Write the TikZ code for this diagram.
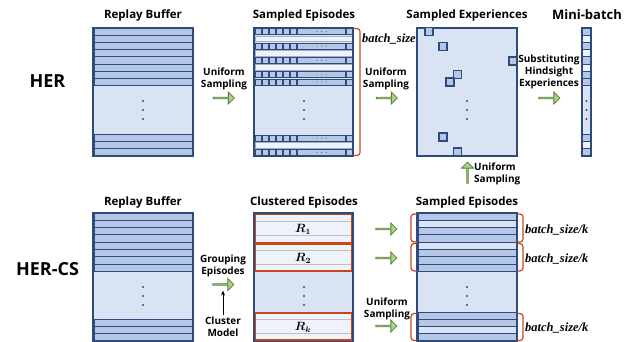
\documentclass[tikz,border=0pt]{standalone}
\usepackage{fontspec}
\usepackage{bm}
\setsansfont{Open Sans}
\newfontfamily\batchfont{Liberation Serif}
\usetikzlibrary{shapes.arrows,arrows.meta}

\definecolor{navy}{HTML}{2F4B7C}
\definecolor{midblue}{HTML}{B4C7E7}
\definecolor{paleblue}{HTML}{DAE3F3}
\definecolor{whiteblue}{HTML}{EEF2FA}
\definecolor{brick}{HTML}{C8461E}
\definecolor{leaf}{HTML}{A9D18E}
\definecolor{leafdark}{HTML}{548235}

\tikzset{
  frame/.style={draw=navy, line width=1.2pt},
  row/.style={draw=navy, fill=midblue, line width=0.9pt},
  paleRow/.style={draw=navy, fill=paleblue, line width=0.9pt},
  lightrow/.style={draw=navy!45, fill=whiteblue, line width=0.7pt},
  lightcell/.style={draw=navy, fill=whiteblue, line width=0.9pt},
  brace/.style={draw=brick, line width=1.2pt, rounded corners=3pt},
  greyline/.style={draw=black!25, line width=1pt},
  title/.style={font=\sffamily\bfseries\fontsize{11.5}{13}\selectfont, anchor=base},
  bigname/.style={font=\sffamily\bfseries\fontsize{18}{20}\selectfont, anchor=base},
  note/.style={font=\sffamily\bfseries\fontsize{10}{12}\selectfont, align=center, inner sep=0pt},
  batch/.style={font=\batchfont\bfseries\itshape\fontsize{12.5}{14}\selectfont, anchor=base west, inner sep=0pt},
  cluster/.style={font=\fontsize{12}{14}\selectfont},
  flow/.style={single arrow, draw=leafdark, fill=leaf, line width=0.8pt,
    minimum width=12pt, minimum height=21pt, single arrow head extend=3pt, inner sep=0pt}
}

% one sampled episode: six steps, the rest, the last step
\newcommand{\eprow}[1]{%
  \foreach \i in {0,...,5}
    \draw[row] (255+7*\i,#1+0.6) rectangle ++(6.4,6);
  \draw[row] (297.5,#1+0.6) rectangle (345.5,#1+6.6);
  \foreach \d in {317,321.5,326}
    \fill[navy] (\d,#1+3.6) circle (0.5);
  \draw[row] (346.5,#1+0.6) rectangle (352,#1+6.6);
}
\newcommand{\vdotsat}[2]{%
  \foreach \d in {0,9,18}
    \fill[navy] (#1,#2+\d) circle (1.1);
}

\begin{document}
\begin{tikzpicture}[x=1pt,y=-1pt]
  \useasboundingbox (0,0) rectangle (642,342);

  %HER
  \node[bigname] (her) at (47.5,87.3) {HER};

  % replay buffer
  \node[title] (rbtitle) at (143,19) {Replay Buffer};
  \fill[paleblue] (93,28) rectangle (193,156);
  \foreach \k in {0,...,7}
    \draw[row] (94,28+7.2*\k) rectangle ++(98,7.2);
  \foreach \k in {0,1,2}
    \draw[row] (94,134.4+7.2*\k) rectangle ++(98,7.2);
  \draw[frame] (93,28) rectangle (193,156);
  \vdotsat{143}{101}

  \node[note] (usampa) at (224,79) {Uniform\\Sampling};
  \node[flow] (arra) at (223.5,98) {};

  % sampled episodes
  \node[title] (setitle) at (304,19) {Sampled Episodes};
  \fill[paleblue] (254,28) rectangle (353,156);
  \foreach \y in {28,42.4,56.8,71.2,78.4,134.4,148.8}
    \eprow{\y}
  \foreach \y in {35.2,49.6,64,141.6}
    \draw[lightrow] (255,\y+0.8) rectangle (352,\y+6.4);
  \draw[frame] (254,28) rectangle (353,156);
  \vdotsat{304}{101}
  \draw[brace] (353,28.5) -- (360,28.5) -- (360,155.5) -- (353,155.5);
  \node[batch] (bs) at (362,42.5) {batch\_size};

  \node[note] (usampb) at (386,79) {Uniform\\Sampling};
  \node[flow] (arrb) at (386.5,98) {};

  % sampled experiences
  \node[title] (sxtitle) at (467,19) {Sampled Experiences};
  \draw[frame, fill=paleblue] (417,28) rectangle (517,156);
  \foreach \x/\y in {429/31.5,443/46.5,513/61,457.5/74.5,450/82,443/137,457.5/152}
    \draw[row, line width=1.2pt] (\x-4,\y-4) rectangle ++(8,8);
  \vdotsat{467}{101}

  \node[flow, shape border rotate=90] (arrup) at (467.5,173) {};
  \node[note, align=left, anchor=west] (usampc) at (474,174) {Uniform\\Sampling};

  \node[note] (subst) at (549,72) {Substituting\\Hindsight\\Experiences};
  \node[flow] (arrc) at (549,98) {};

  % mini-batch
  \node[font=\sffamily\bfseries\fontsize{13}{15}\selectfont, anchor=base] (mbtitle) at (587,19.5) {Mini-batch};
  \fill[paleblue] (582,28) rectangle (591,156);
  \foreach \y in {28,42.4,56.8,71.2,78.4,134.4,148.8}
    \draw[row] (582,\y) rectangle ++(9,7.2);
  \foreach \y in {35.2,49.6,64,141.6}
    \draw[lightcell] (582,\y) rectangle ++(9,7.2);
  \draw[frame] (582,28) rectangle (591,156);
  \vdotsat{586.5}{101}

  %HER-CS
  \node[bigname] (hercs) at (47.5,275.7) {HER-CS};

  % replay buffer
  \node[title] (rbtitleb) at (143,205) {Replay Buffer};
  \fill[paleblue] (93,213) rectangle (193,341);
  \foreach \k in {0,...,7}
    \draw[row] (94,213+7.3*\k) rectangle ++(98,7.3);
  \foreach \k in {0,1,2}
    \draw[row] (94,319.1+7.3*\k) rectangle ++(98,7.3);
  \draw[frame] (93,213) rectangle (193,341);
  \vdotsat{143}{287}

  \node[note] (group) at (223,265.5) {Grouping\\Episodes};
  \node[flow] (arrg) at (223,284.5) {};
  \node[note] (clmodel) at (223,327) {Cluster\\Model};
  \draw[-{Stealth[length=5pt,width=4pt]}, line width=1pt, shorten <=2pt, shorten >=5pt]
    (clmodel) -- (arrg);

  % clustered episodes
  \node[title] (cetitle) at (304,205) {Clustered Episodes};
  \draw[frame, fill=paleblue] (254,213) rectangle (353,341);
  \foreach \ya/\yb in {214.5/243,244/271,313/340} {
    \fill[whiteblue] (255.5,\ya) rectangle (351.5,\yb);
    \draw[greyline] (256,{\ya+(\yb-\ya)/4}) -- (351,{\ya+(\yb-\ya)/4});
    \draw[greyline] (256,{\ya+3*(\yb-\ya)/4}) -- (351,{\ya+3*(\yb-\ya)/4});
    \draw[brick, line width=1.2pt] (255.5,\ya) rectangle (351.5,\yb);
  }
  \node[cluster] (r1) at (303,229) {$\bm{R_1}$};
  \node[cluster] (r2) at (303,258) {$\bm{R_2}$};
  \node[cluster] (rk) at (303,327) {$\bm{R_k}$};
  \vdotsat{304}{287}

  \node[flow] (arrd1) at (386,229) {};
  \node[flow] (arrd2) at (386,258) {};
  \node[note] (usampd) at (387,308.5) {Uniform\\Sampling};
  \node[flow] (arrd3) at (386,326) {};

  % sampled episodes
  \node[title] (sebtitle) at (467,205) {Sampled Episodes};
  \fill[paleblue] (417,213) rectangle (517,341);
  \foreach \y in {213,227.6,234.9,249.5,256.8,264.1,312,319.25,333.75}
    \draw[row] (418,\y) rectangle ++(98,7.3);
  \foreach \y in {220.3,242.2,326.5}
    \draw[paleRow] (418,\y) rectangle ++(98,7.3);
  \draw[frame] (417,213) rectangle (517,341);
  \vdotsat{467}{287}
  \foreach \ya/\yb in {214/242,243.5/271,313.5/340.5} {
    \draw[brace] (417,\ya) -- (411,\ya) -- (411,\yb) -- (417,\yb);
    \draw[brace] (517,\ya) -- (523,\ya) -- (523,\yb) -- (517,\yb);
  }
  \node[batch] (bsk1) at (525,233) {batch\_size/k};
  \node[batch] (bsk2) at (525,262) {batch\_size/k};
  \node[batch] (bsk3) at (525,331) {batch\_size/k};
\end{tikzpicture}
\end{document}
